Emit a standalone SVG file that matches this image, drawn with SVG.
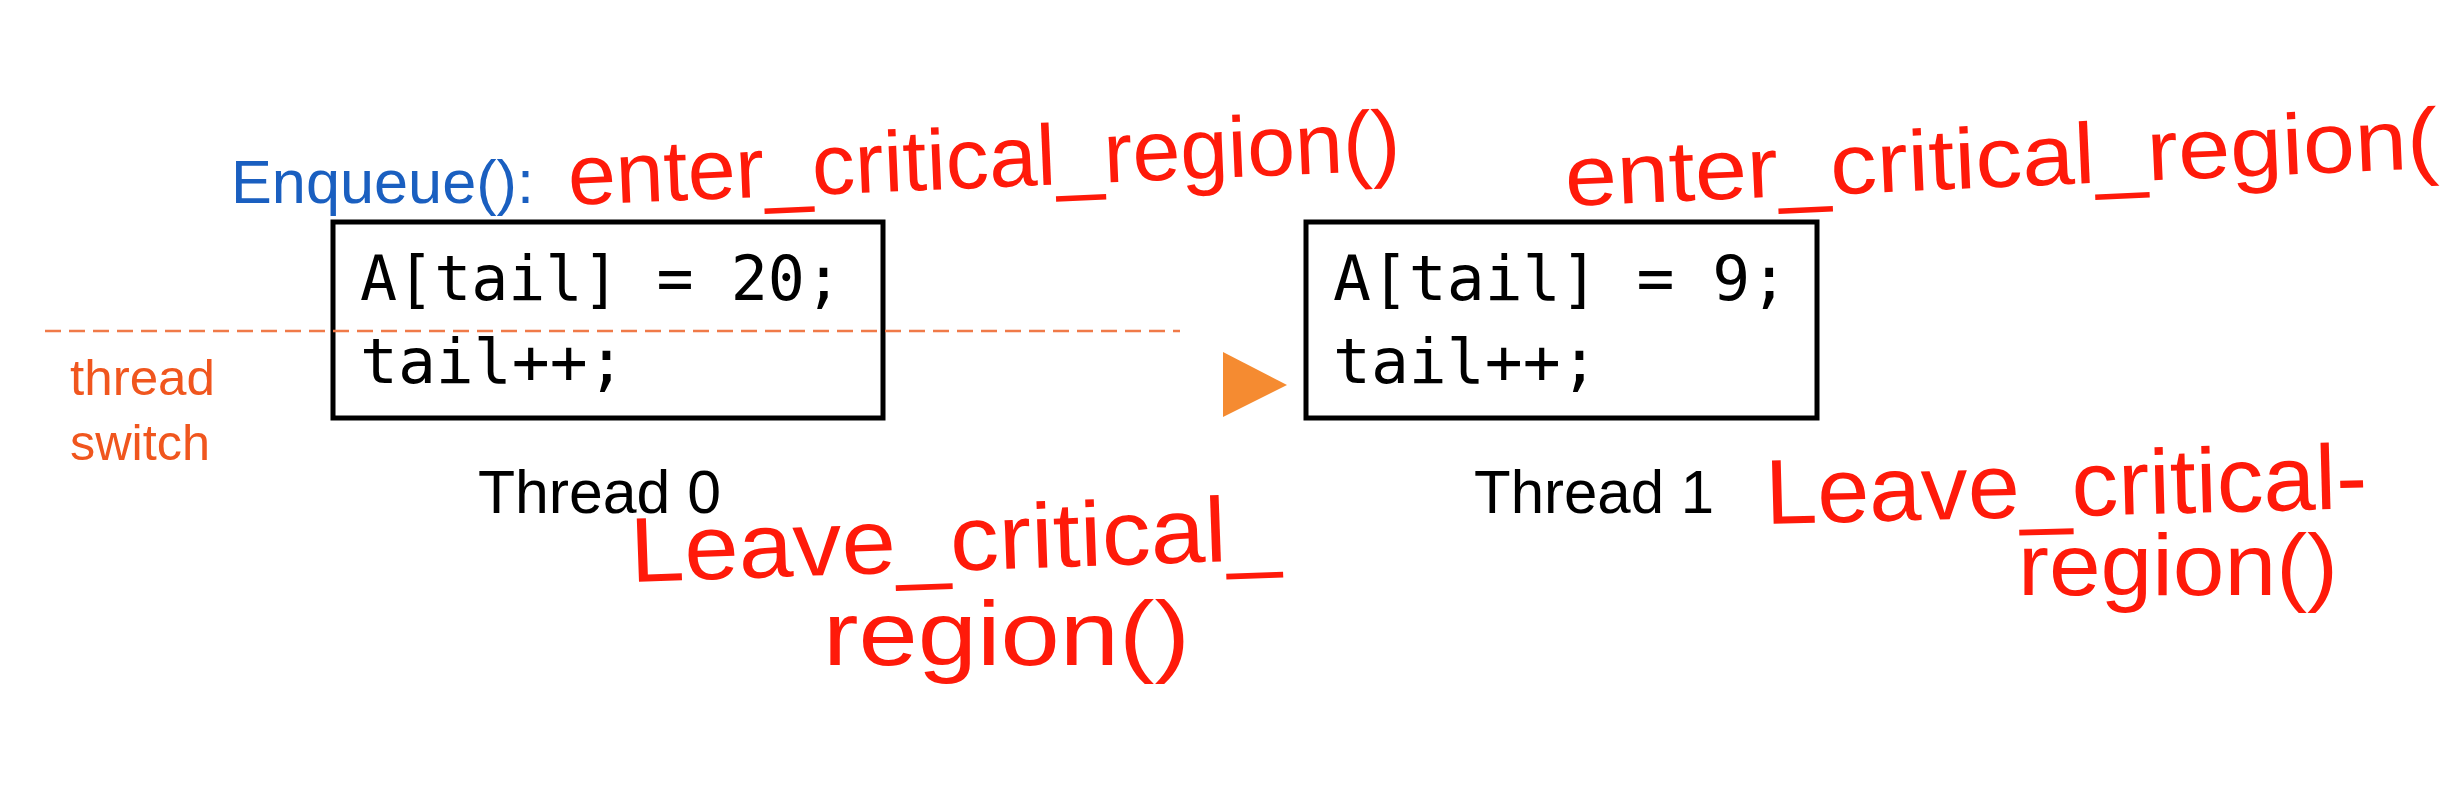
<svg xmlns="http://www.w3.org/2000/svg" width="2443" height="799" viewBox="0 0 2443 799">
<style>
.box{fill:none;stroke:#000;stroke-width:5}
.code{font-family:"DejaVu Sans Mono","Liberation Mono",monospace;font-size:63px;fill:#000}
.label{font-family:"Liberation Sans",Arial,sans-serif;font-size:62px;fill:#000}
.hand{font-family:"Liberation Sans",Arial,sans-serif;fill:#ff1a0a}
.orange{font-family:"Liberation Sans",Arial,sans-serif;font-size:50px;fill:#f0561e}
</style>
<rect width="2443" height="799" fill="#fff"/>
<g id="enqueue-label">
<text x="231" y="203" font-family="Liberation Sans, Arial, sans-serif" font-size="62" fill="#1a5fc0" textLength="303" lengthAdjust="spacingAndGlyphs">Enqueue():</text>
</g>
<g id="thread0">
<rect class="box" x="333" y="222" width="550" height="196"/>
<text class="code" x="360" y="300" textLength="482" lengthAdjust="spacingAndGlyphs">A[tail] = 20;</text>
<text class="code" x="360" y="383">tail++;</text>
<text class="label" x="478" y="513" textLength="243" lengthAdjust="spacingAndGlyphs">Thread 0</text>
</g>
<g id="thread1">
<rect class="box" x="1306" y="222" width="511" height="196"/>
<text class="code" x="1333" y="300">A[tail] = 9;</text>
<text class="code" x="1333" y="383">tail++;</text>
<text class="label" x="1474" y="513" textLength="240" lengthAdjust="spacingAndGlyphs">Thread 1</text>
</g>
<g id="thread-switch">
<text class="orange" x="70" y="395" textLength="145" lengthAdjust="spacingAndGlyphs">thread</text>
<text class="orange" x="70" y="460" textLength="140" lengthAdjust="spacingAndGlyphs">switch</text>
</g>
<g id="connectors">
<line x1="45" y1="331" x2="1180" y2="331" stroke="#f07a48" stroke-width="2.5" stroke-dasharray="16 8"/>
<polygon points="1223,352 1287,385 1223,417" fill="#f58b31"/>
</g>
<g id="annotations">
<text class="hand" font-size="86" x="569" y="205" textLength="833" lengthAdjust="spacingAndGlyphs" transform="rotate(-2.4 569 205)">enter_critical_region()</text>
<text class="hand" font-size="86" x="1566" y="206" textLength="874" lengthAdjust="spacingAndGlyphs" transform="rotate(-2.5 1566 206)">enter_critical_region(</text>
<text class="hand" font-size="92" x="631" y="582" textLength="651" lengthAdjust="spacingAndGlyphs" transform="rotate(-2 631 582)">Leave_critical_</text>
<text class="hand" font-size="90" x="823" y="665" textLength="367" lengthAdjust="spacingAndGlyphs">region()</text>
<text class="hand" font-size="92" x="1766" y="524" textLength="602" lengthAdjust="spacingAndGlyphs" transform="rotate(-1.5 1766 524)">Leave_critical-</text>
<text class="hand" font-size="88" x="2018" y="595" textLength="320" lengthAdjust="spacingAndGlyphs">region()</text>
</g>
</svg>
